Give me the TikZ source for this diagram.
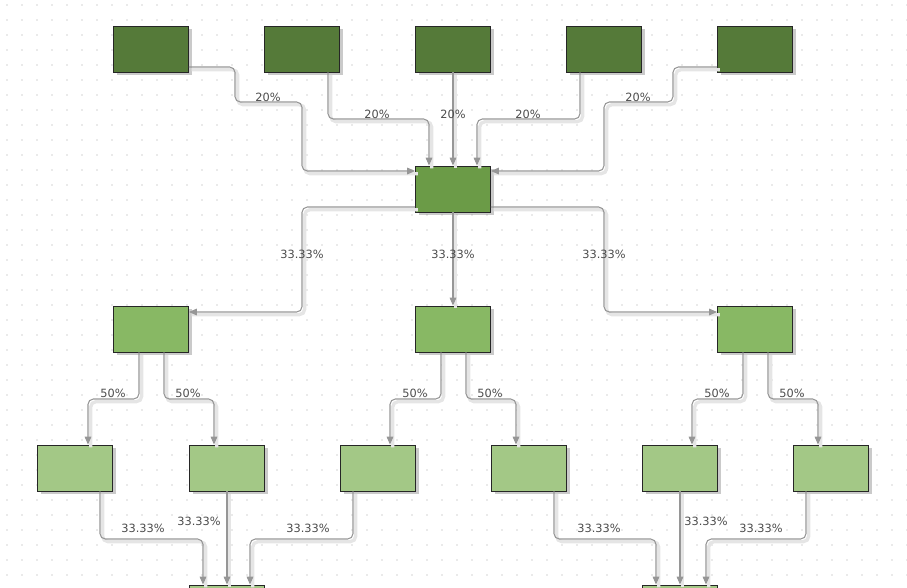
\documentclass[tikz,border=0pt]{standalone}
\usepackage{fontspec}
\setmainfont{DejaVu Sans}
\usetikzlibrary{arrows.meta, positioning, shadows, calc}
\definecolor{gdark}{RGB}{85, 122, 57}
\definecolor{gmid}{RGB}{107, 155, 71}
\definecolor{glight}{RGB}{136, 184, 100}
\definecolor{gpale}{RGB}{163, 200, 134}
\definecolor{edgegray}{RGB}{150, 150, 150}

\begin{document}
\begin{tikzpicture}[
    x=0.75pt, y=-0.75pt,
    box/.style={rectangle, draw=black!85, semithick, minimum width=56.25pt, minimum height=34.5pt, inner sep=0pt,
        drop shadow={shadow xshift=2.5pt, shadow yshift=-2.5pt, opacity=0.35, fill=black!60}},
    edge/.style={draw=edgegray, thick, rounded corners=4pt, -{Triangle[length=6pt, width=5pt]},
        preaction={draw=black!10, line width=2.5pt, transform canvas={xshift=2pt, yshift=-2pt}, -}},
    lbl/.style={font=\fontsize{8.5}{10}\selectfont, text=black!70, inner sep=1pt}
]
\useasboundingbox (0,0) rectangle (907,587);
\clip (0,0) rectangle (907,587);

% Dotted grid
\foreach \gx in {0,15,...,900}
  \foreach \gy in {5,20,...,585}
    \fill[black!35] (\gx+7,\gy) circle (0.45pt);

% Top row
\foreach \i/\cx in {1/151, 2/302, 3/453, 4/604, 5/755}
  \node[box, fill=gdark] (top\i) at (\cx,49) {};

% Centre
\node[box, fill=gmid] (hub) at (453,189) {};

% Second row
\node[box, fill=glight] (midA) at (151,329) {};
\node[box, fill=glight] (midB) at (453,329) {};
\node[box, fill=glight] (midC) at (755,329) {};

% Third row
\foreach \i/\cx in {1/75, 2/227, 3/378, 4/529, 5/680, 6/831}
  \node[box, fill=gpale] (leaf\i) at (\cx,468) {};

% Bottom (cut off)
\node[box, fill=gpale] (sinkL) at (227,608) {};
\node[box, fill=gpale] (sinkR) at (680,608) {};

% Top -> hub
\draw[edge] (top1.east |- 0,67) -- (235,67) -- (235,102) -- (302,102) -- (302,171) -- (hub.west |- 0,171);
\draw[edge] (top2.south -| 328,0) -- (328,119) -- (429,119) -- (hub.north -| 429,0);
\draw[edge] (top3.south) -- (hub.north);
\draw[edge] (top4.south -| 580,0) -- (580,119) -- (477,119) -- (hub.north -| 477,0);
\draw[edge] (top5.west |- 0,67) -- (673,67) -- (673,102) -- (604,102) -- (604,171) -- (hub.east |- 0,171);
\node[lbl] at (268,97) {20\%};
\node[lbl] at (377,114) {20\%};
\node[lbl] at (453,114) {20\%};
\node[lbl] at (528,114) {20\%};
\node[lbl] at (638,97) {20\%};

% Hub -> second row
\draw[edge] (hub.west |- 0,207) -- (302,207) -- (302,312) -- (midA.east |- 0,312);
\draw[edge] (hub.south) -- (midB.north);
\draw[edge] (hub.east |- 0,207) -- (604,207) -- (604,312) -- (midC.west |- 0,312);
\node[lbl] at (302,254) {33.33\%};
\node[lbl] at (453,254) {33.33\%};
\node[lbl] at (604,254) {33.33\%};

% Second row -> third row
\foreach \m/\a/\b/\l/\r in {midA/139/164/1/2, midB/441/466/3/4, midC/743/768/5/6} {
  \draw[edge] (\m.south -| \a,0) -- (\a,399) -- (\a-51,399) -- (leaf\l.north -| \a-51,0);
  \draw[edge] (\m.south -| \b,0) -- (\b,399) -- (\b+50,399) -- (leaf\r.north -| \b+50,0);
  \node[lbl] at (\a-26,393) {50\%};
  \node[lbl] at (\b+24,393) {50\%};
}

% Third row -> bottom
\draw[edge] (leaf1.south -| 100,0) -- (100,539) -- (203,539) -- (sinkL.north -| 203,0);
\draw[edge] (leaf2.south) -- (sinkL.north);
\draw[edge] (leaf3.south -| 353,0) -- (353,539) -- (250,539) -- (sinkL.north -| 250,0);
\draw[edge] (leaf4.south -| 554,0) -- (554,539) -- (656,539) -- (sinkR.north -| 656,0);
\draw[edge] (leaf5.south) -- (sinkR.north);
\draw[edge] (leaf6.south -| 806,0) -- (806,539) -- (706,539) -- (sinkR.north -| 706,0);
\node[lbl] at (143,528) {33.33\%};
\node[lbl] at (199,521) {33.33\%};
\node[lbl] at (308,528) {33.33\%};
\node[lbl] at (599,528) {33.33\%};
\node[lbl] at (706,521) {33.33\%};
\node[lbl] at (761,528) {33.33\%};

\end{tikzpicture}
\end{document}
